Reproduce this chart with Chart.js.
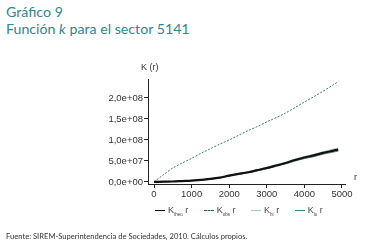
<!DOCTYPE html>
<html>
<head>
<meta charset="utf-8">
<script src="https://cdn.jsdelivr.net/npm/chart.js@4.4.1/dist/chart.umd.min.js"></script>
<style>
  body { margin: 0; background: #fff; }
  #wrap { position: relative; width: 366px; height: 245px; overflow: hidden; }
  #chart { position: absolute; left: 0; top: 0; }
  .title { position: absolute; left: 6px; font-family: Lato, "Open Sans", sans-serif; font-size: 14.2px; color: #2f8790; white-space: nowrap; }
  .lbl { position: absolute; font-family: "Liberation Sans", Arial, sans-serif; font-size: 9px; color: #333; white-space: nowrap; }
  .legend { position: absolute; top: 205px; left: 155px; font-family: "Liberation Sans", Arial, sans-serif; font-size: 9px; color: #444; white-space: nowrap; }
  .legend span.item { margin-right: 13px; }
  .legend i { display: inline-block; width: 10px; height: 0; vertical-align: middle; margin-right: 3px; }
  .legend sub { font-size: 4.5px; }
  .note { position: absolute; left: 6px; top: 231px; font-family: Lato, "Open Sans", sans-serif; font-size: 7.6px; color: #333; white-space: nowrap; }
</style>
</head>
<body>
<div id="wrap">
  <div class="title" style="top:3px">Gráfico 9</div>
  <div class="title" style="top:20px">Función <i>k</i> para el sector 5141</div>
  <canvas id="chart" width="366" height="245"></canvas>
  <div class="lbl" style="left:141px; top:62px">K (r)</div>
  <div class="lbl" style="left:354px; top:172px">r</div>
  <div class="legend">
    <span class="item"><i style="border-top:1.5px solid #111"></i>K<sub>theo</sub> r</span>
    <span class="item"><i style="border-top:1.5px dashed #1f5f55"></i>K<sub>obs</sub> r</span>
    <span class="item"><i style="border-top:1px solid #a9c9bd"></i>K<sub>hi</sub> r</span>
    <span class="item"><i style="border-top:1.5px solid #3d8a70"></i>K<sub>lo</sub> r</span>
  </div>
  <div class="note">Fuente: SIREM-Superintendencia de Sociedades, 2010. Cálculos propios.</div>
</div>
<script>
const rValues = [0, 250, 500, 750, 1000, 1250, 1500, 1750, 2000, 2250, 2500, 2750, 3000, 3250, 3500, 3750, 4000, 4250, 4500, 4750, 4900];
const kObs = [0, 0.17e8, 0.33e8, 0.45e8, 0.56e8, 0.68e8, 0.79e8, 0.90e8, 1.00e8, 1.11e8, 1.22e8, 1.32e8, 1.43e8, 1.53e8, 1.64e8, 1.77e8, 1.90e8, 2.03e8, 2.16e8, 2.30e8, 2.39e8];
const kTheo = [0, 0.005e8, 0.01e8, 0.02e8, 0.03e8, 0.05e8, 0.07e8, 0.10e8, 0.15e8, 0.19e8, 0.23e8, 0.28e8, 0.33e8, 0.39e8, 0.45e8, 0.52e8, 0.58e8, 0.63e8, 0.69e8, 0.74e8, 0.77e8];
const kHi = [0, 0.006e8, 0.012e8, 0.024e8, 0.035e8, 0.056e8, 0.078e8, 0.109e8, 0.16e8, 0.20e8, 0.245e8, 0.295e8, 0.35e8, 0.41e8, 0.47e8, 0.545e8, 0.605e8, 0.66e8, 0.72e8, 0.775e8, 0.805e8];
const kLo = [0, 0.004e8, 0.008e8, 0.016e8, 0.025e8, 0.044e8, 0.062e8, 0.091e8, 0.14e8, 0.18e8, 0.215e8, 0.265e8, 0.31e8, 0.37e8, 0.43e8, 0.495e8, 0.555e8, 0.60e8, 0.66e8, 0.705e8, 0.735e8];
const xTicks = [0, 1000, 2000, 3000, 4000, 5000];
const xTickLabels = ['0', '1000', '2000', '3000', '4000', '5000'];
const yTicks = [0, 5e7, 1e8, 1.5e8, 2e8];
const yTickLabels = ['0,0e+00', '5,0e+07', '1,0e+08', '1,5e+08', '2,0e+08'];

const toPoints = (ys) => rValues.map((r, i) => ({ x: r, y: ys[i] }));
const tickFont = { family: '"Liberation Sans", Arial, sans-serif', size: 9.5 };

new Chart(document.getElementById('chart'), {
    type: 'line',
    data: {
        datasets: [
            { label: 'theo', data: toPoints(kTheo), borderColor: '#111', borderWidth: 2.2, pointRadius: 0, tension: 0.3, order: 0 },
            { label: 'obs', data: toPoints(kObs), borderColor: '#3f7a6c', borderWidth: 1, borderDash: [2, 1.5], pointRadius: 0, tension: 0.3, order: 1 },
            { label: 'hi', data: toPoints(kHi), borderColor: '#a9c9bd', borderWidth: 1, pointRadius: 0, tension: 0.3, order: 2 },
            { label: 'lo', data: toPoints(kLo), borderColor: '#5f8f80', borderWidth: 1, pointRadius: 0, tension: 0.3, fill: 2, backgroundColor: 'rgba(120,130,130,0.45)', order: 3 }
        ]
    },
    options: {
        responsive: false,
        animation: false,
        layout: { padding: { left: 0, top: 79, right: 21, bottom: 41 } },
        plugins: { legend: { display: false }, tooltip: { enabled: false } },
        scales: {
            x: {
                type: 'linear',
                min: -160,
                max: 5080,
                afterBuildTicks: (axis) => { axis.ticks = xTicks.map((v) => ({ value: v })); },
                afterFit: (axis) => { axis.height = 20; },
                grid: { drawOnChartArea: false, tickLength: 4, color: '#222' },
                border: { color: '#222', width: 1 },
                ticks: {
                    font: tickFont,
                    color: '#333',
                    padding: 1,
                    maxRotation: 0,
                    callback: (v) => xTickLabels[xTicks.indexOf(v)]
                }
            },
            y: {
                type: 'linear',
                min: -0.05e8,
                max: 2.45e8,
                afterBuildTicks: (axis) => { axis.ticks = yTicks.map((v) => ({ value: v })); },
                afterFit: (axis) => { axis.width = 148; },
                grid: { drawOnChartArea: false, tickLength: 4, color: '#222' },
                border: { color: '#222', width: 1 },
                ticks: {
                    font: tickFont,
                    color: '#333',
                    padding: 1,
                    callback: (v) => yTickLabels[yTicks.indexOf(v)]
                }
            }
        }
    }
});
</script>
</body>
</html>
